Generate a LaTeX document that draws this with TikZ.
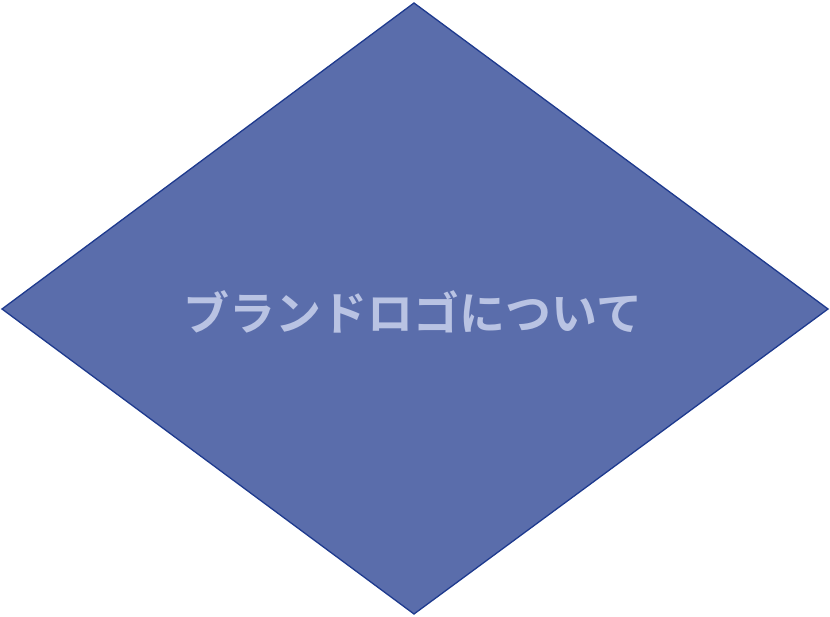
\documentclass[tikz,border=0pt]{standalone}
\usepackage{fontspec}
\newfontfamily\cjk{Noto Sans CJK JP}[BoldFont={Noto Sans CJK JP Bold}]
\definecolor{dfill}{HTML}{5A6DAB}
\definecolor{dline}{HTML}{1E3A8E}
\definecolor{dtext}{HTML}{B9C3E3}
\tikzset{decision/.style={draw=dline, fill=dfill, line width=1.3pt, line join=miter}}
\begin{document}
\begin{tikzpicture}[x=1pt,y=-1pt]
\useasboundingbox (0,0) rectangle (830,617);
\coordinate (t) at (414,3);
\coordinate (r) at (828,309);
\coordinate (b) at (414,614);
\coordinate (l) at (2,309);
\draw[decision] (t) -- (r) -- (b) -- (l) -- cycle;
\node[text=dtext, font=\cjk\bfseries\fontsize{46}{52}\selectfont, inner sep=0pt] (label) at (413,312) {ブランドロゴについて};
\end{tikzpicture}
\end{document}
